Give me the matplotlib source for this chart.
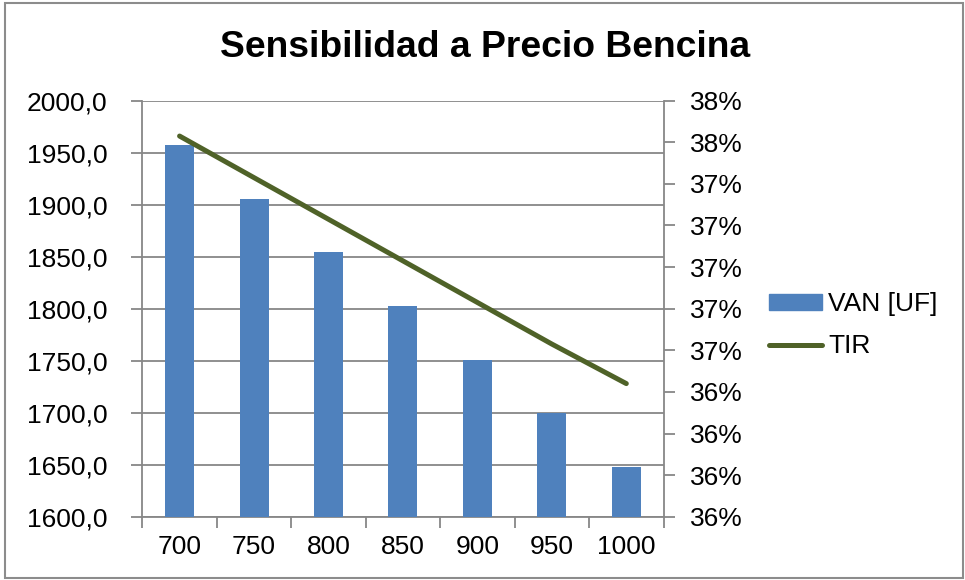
import matplotlib
matplotlib.use("Agg")
import matplotlib.pyplot as plt
from matplotlib.patches import Rectangle
from matplotlib.lines import Line2D
import numpy as np

plt.rcParams['font.family'] = ['Liberation Sans', 'DejaVu Sans']

# Data
precios = ["700", "750", "800", "850", "900", "950", "1000"]
van_uf = [1957.4, 1905.8, 1854.2, 1802.6, 1751.0, 1699.4, 1647.8]
tir = [0.3763, 0.3743, 0.3723, 0.3703, 0.3683, 0.3663, 0.3644]
van_ticks = [1600, 1650, 1700, 1750, 1800, 1850, 1900, 1950, 2000]
tir_ticks = [0.358, 0.360, 0.362, 0.364, 0.366, 0.368, 0.370, 0.372, 0.374, 0.376, 0.378]
tir_labels = ["36%", "36%", "36%", "36%", "37%", "37%", "37%", "37%", "37%", "38%", "38%"]

BAR = "#4F81BD"
LINE = "#4F6228"
GRID = "#878787"
FS = 19

fig = plt.figure(figsize=(9.65, 5.8), dpi=100)
fig.patch.set_facecolor("white")
ax = fig.add_axes([0.1475, 0.1091, 0.5401, 0.7173])
x = np.arange(len(precios))

ax.bar(x, van_uf, width=0.39, color=BAR, zorder=3, label="VAN [UF]")
ax.set_ylim(1600, 2000)
ax.set_xlim(-0.5, len(precios) - 0.5)
ax.set_yticks(van_ticks)
ax.set_yticklabels([f"{v:.1f}".replace(".", ",") for v in van_ticks])
ax.yaxis.grid(True, color=GRID, lw=1.3, zorder=0)
ax.set_xticks(x)
ax.set_xticklabels(precios)
ax.set_xticks(np.arange(-0.5, len(precios)), minor=True)
ax.tick_params(axis="x", which="major", length=0, pad=13, labelsize=FS)
ax.tick_params(axis="x", which="minor", length=8, width=1.3, color=GRID, direction="out")
ax.tick_params(axis="y", length=8, width=1.3, color=GRID, direction="out", pad=17, labelsize=FS)
for s in ["top", "right"]:
    ax.spines[s].set_visible(False)
for s in ["left", "bottom"]:
    ax.spines[s].set_color(GRID)
    ax.spines[s].set_linewidth(1.3)

ax2 = ax.twinx()
ax2.plot(x, tir, color=LINE, lw=3.6, solid_capstyle="round", zorder=4, label="TIR")
ax2.set_ylim(tir_ticks[0], tir_ticks[-1])
ax2.set_yticks(tir_ticks)
ax2.set_yticklabels(tir_labels)
ax2.tick_params(axis="y", length=8, width=1.3, color=GRID, direction="out", pad=11, labelsize=FS)
for s in ["top", "left", "bottom"]:
    ax2.spines[s].set_visible(False)
ax2.spines["right"].set_color(GRID)
ax2.spines["right"].set_linewidth(1.3)

fig.text(0.503, 0.918, "Sensibilidad a Precio Bencina", ha="center", va="center",
         fontsize=26.8, fontweight="bold")

handles = [Rectangle((0, 0), 1, 1, color=BAR),
           Line2D([0], [0], color=LINE, lw=3.6, solid_capstyle="round")]
fig.legend(handles, ["VAN [UF]", "TIR"], loc="center left",
           bbox_to_anchor=(0.797, 0.439), frameon=False, fontsize=FS,
           handlelength=2.0, handleheight=0.52, handletextpad=0.25,
           labelspacing=0.68, borderpad=0, borderaxespad=0)

fig.add_artist(Rectangle((0.005, 0.004), 0.993, 0.99, transform=fig.transFigure,
                         fill=False, edgecolor="#8c8c8c", lw=1.5))

fig.savefig("out.png", dpi=100)
